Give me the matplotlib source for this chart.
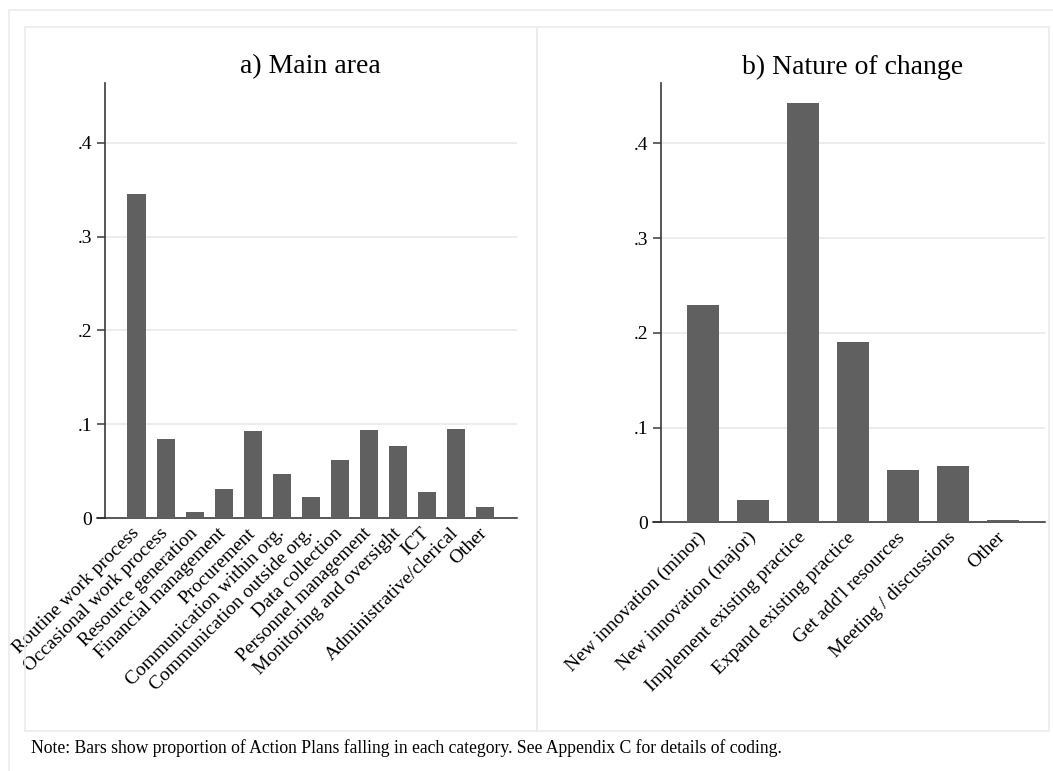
import matplotlib
matplotlib.use('Agg')
import matplotlib.pyplot as plt
from matplotlib.patches import Rectangle

plt.rcParams['font.family'] = ['Liberation Serif', 'DejaVu Serif']

# ── data ──────────────────────────────────────────────
area_labels = ['Routine work process', 'Occasional work process',
               'Resource generation', 'Financial management', 'Procurement',
               'Communication within org.', 'Communication outside org.',
               'Data collection', 'Personnel management',
               'Monitoring and oversight', 'ICT', 'Administrative/clerical',
               'Other']
area_vals = [0.345, 0.084, 0.007, 0.031, 0.093, 0.047, 0.023,
             0.062, 0.094, 0.077, 0.028, 0.095, 0.0125]

change_labels = ['New innovation (minor)', 'New innovation (major)',
                 'Implement existing practice', 'Expand existing practice',
                 "Get add'l resources", 'Meeting / discussions', 'Other']
change_vals = [0.229, 0.0236, 0.443, 0.190, 0.055, 0.0596, 0.0025]

yticks = [0, 0.1, 0.2, 0.3, 0.4]
ytick_labels = ['0', '.1', '.2', '.3', '.4']

note = ('Note: Bars show proportion of Action Plans falling in each category. '
        'See Appendix C for details of coding.')

BAR = '#606060'
GRID = '#e9e9e9'
BOX = '#ebebeb'
W, H = 1053, 771

fig = plt.figure(figsize=(W / 100, H / 100), dpi=100)

# panel frames (Stata graph combine look)
def frame(x0, y0, x1, y1):
    fig.patches.append(Rectangle((x0 / W, 1 - y1 / H), (x1 - x0) / W,
                                 (y1 - y0) / H, transform=fig.transFigure,
                                 fill=False, edgecolor=BOX, linewidth=1.2))

frame(8.5, 10, 1060, 790)
frame(25, 27, 537, 731)
frame(537, 27, 1049, 731)


def panel(rect_px, labels, vals, title, half):
    x0, y0, x1, y1 = rect_px
    ax = fig.add_axes([x0 / W, 1 - y1 / H, (x1 - x0) / W, (y1 - y0) / H])
    n = len(vals)
    pos = list(range(n))
    ax.bar(pos, vals, width=0.63, color=BAR, edgecolor='none', zorder=5)
    mid = (n - 1) / 2
    ax.set_xlim(mid - half, mid + half)
    ax.set_ylim(0, 0.464)

    # gridlines from the y axis to the right end
    for v in yticks[1:]:
        ax.axhline(v, color=GRID, linewidth=1.2, zorder=1)

    for s in ['top', 'right', 'bottom']:
        ax.spines[s].set_visible(False)
    ax.spines['left'].set_color('#3a3a3a')
    ax.spines['left'].set_linewidth(1.2)

    # x axis line reaching under the y ticks
    ext = 8.3 / (x1 - x0)
    ax.plot([-ext, 1], [0, 0], transform=ax.get_yaxis_transform(),
            color='#2a2a2a', linewidth=1.1, clip_on=False, zorder=4)

    ax.set_yticks(yticks)
    ax.set_yticklabels(ytick_labels)
    ax.tick_params(axis='y', length=6, width=1.1, color='#3a3a3a',
                   pad=3.2, labelsize=14, direction='out')
    ax.set_xticks(pos)
    ax.set_xticklabels(labels, rotation=45, ha='right', va='center',
                       rotation_mode='anchor', fontsize=14)
    ax.tick_params(axis='x', length=0, pad=9)
    ax.set_title(title, fontsize=20, pad=6.5)
    return ax


panel((105, 82.6, 516.5, 518.3), area_labels, area_vals, 'a) Main area', 7.09)
panel((660.9, 82.6, 1044.8, 522.4), change_labels, change_vals,
      'b) Nature of change', 3.84)

fig.text(31 / W, 1 - 753 / H, note, fontsize=12.7, ha='left', va='baseline')

fig.savefig('out.png', dpi=100)
